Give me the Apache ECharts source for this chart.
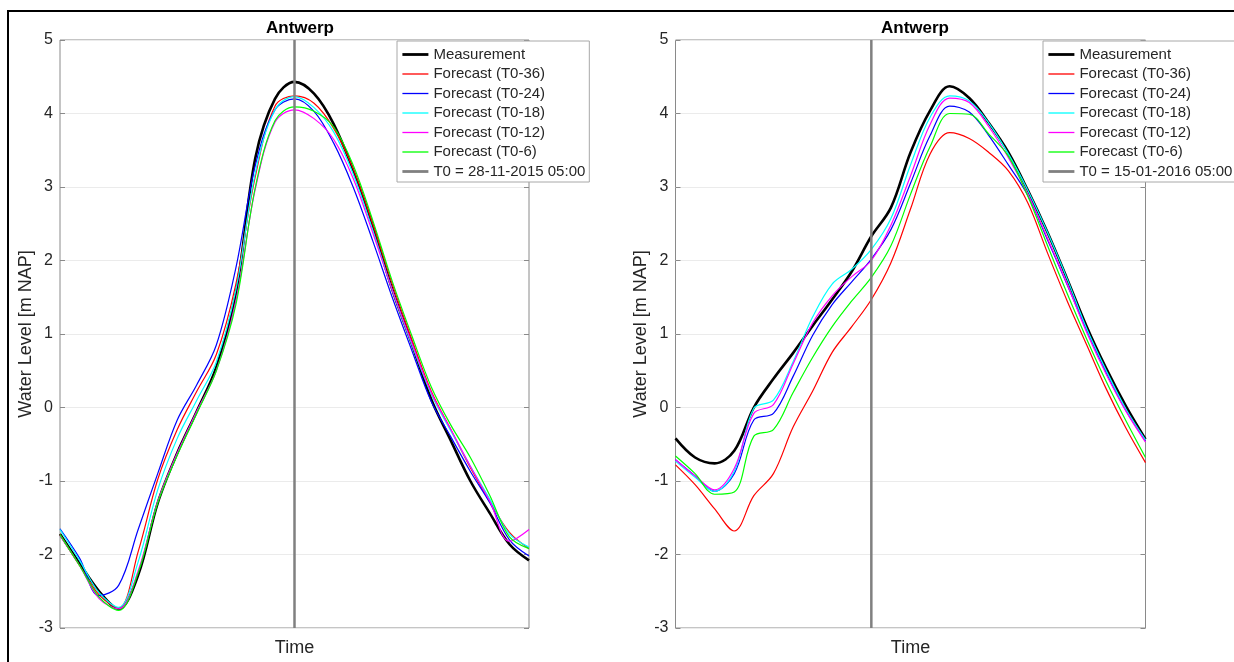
<!DOCTYPE html>
<html><head><meta charset="utf-8">
<script src="https://cdn.jsdelivr.net/npm/echarts@6/dist/echarts.min.js"></script>
<style>html,body{margin:0;padding:0;background:#fff}#c{width:1234px;height:662px}</style>
</head><body><div id="c"></div>
<script>
// ---- data ----
const time = [0,2,4,6,8,10,12,14,16,18,20,22,24,26,28,30,32,34,36,38,40,42,44,46,48];
const yTicks = [-3,-2,-1,0,1,2,3,4,5];
const chartTitle = 'Antwerp';
const seriesNames = ['Measurement','Forecast (T0-36)','Forecast (T0-24)','Forecast (T0-18)','Forecast (T0-12)','Forecast (T0-6)'];
const t0Left = 24, t0LeftName = 'T0 = 28-11-2015 05:00';
const t0Right = 20, t0RightName = 'T0 = 15-01-2016 05:00';

const leftMeasurement = [-1.72,-2.12,-2.50,-2.74,-2.28,-1.30,-0.62,-0.05,0.55,1.55,3.40,4.20,4.43,4.27,3.86,3.23,2.48,1.61,0.87,0.11,-0.45,-1.00,-1.44,-1.86,-2.08];
const leftT36 = [-1.73,-2.15,-2.55,-2.73,-1.96,-0.98,-0.30,0.22,0.72,1.68,3.15,4.10,4.24,4.14,3.80,3.25,2.50,1.68,0.93,0.22,-0.30,-0.82,-1.28,-1.70,-1.92];
const leftT24 = [-1.65,-2.05,-2.56,-2.42,-1.66,-0.90,-0.17,0.31,0.85,1.90,3.30,4.05,4.20,4.03,3.60,3.00,2.27,1.50,0.78,0.08,-0.40,-0.87,-1.30,-1.80,-2.02];
const leftT18 = [-1.66,-2.08,-2.52,-2.72,-2.10,-1.12,-0.42,0.10,0.62,1.60,3.20,4.05,4.23,4.08,3.75,3.18,2.42,1.60,0.86,0.18,-0.32,-0.80,-1.25,-1.72,-1.90];
const leftT12 = [-1.74,-2.15,-2.60,-2.74,-2.22,-1.28,-0.62,-0.05,0.50,1.45,2.98,3.88,4.05,3.93,3.65,3.12,2.38,1.60,0.88,0.20,-0.30,-0.80,-1.28,-1.82,-1.66];
const leftT6  = [-1.73,-2.15,-2.58,-2.76,-2.25,-1.30,-0.65,-0.08,0.50,1.40,3.00,3.90,4.09,4.03,3.82,3.30,2.55,1.72,0.98,0.28,-0.24,-0.68,-1.20,-1.76,-1.92];

const rightMeasurement = [-0.42,-0.68,-0.76,-0.59,0.00,0.39,0.74,1.11,1.47,1.85,2.33,2.72,3.47,4.04,4.37,4.21,3.87,3.47,2.95,2.38,1.75,1.10,0.53,0.02,-0.43];
const rightT36 = [-0.78,-1.05,-1.38,-1.68,-1.20,-0.90,-0.27,0.22,0.75,1.10,1.47,1.97,2.70,3.45,3.74,3.66,3.47,3.22,2.78,2.10,1.45,0.85,0.25,-0.28,-0.75];
const rightT24 = [-0.71,-0.93,-1.14,-0.90,-0.17,-0.08,0.42,0.98,1.40,1.71,2.02,2.42,3.05,3.70,4.10,4.02,3.70,3.30,2.88,2.28,1.67,1.05,0.47,-0.04,-0.45];
const rightT18 = [-0.73,-0.95,-1.14,-0.87,-0.01,0.10,0.62,1.23,1.68,1.88,2.15,2.57,3.30,3.95,4.24,4.17,3.87,3.45,2.95,2.38,1.75,1.07,0.50,-0.02,-0.44];
const rightT12 = [-0.71,-0.93,-1.12,-0.83,-0.08,0.04,0.59,1.15,1.52,1.78,2.00,2.48,3.15,3.85,4.21,4.15,3.82,3.40,2.90,2.30,1.68,1.02,0.45,-0.05,-0.47];
const rightT6  = [-0.66,-0.90,-1.18,-1.15,-0.39,-0.30,0.20,0.68,1.10,1.45,1.77,2.20,2.90,3.55,4.00,3.99,3.72,3.42,2.87,2.20,1.55,0.93,0.35,-0.18,-0.68];

// ---- styles ----
const FONT = '"Liberation Sans", Arial, Helvetica, sans-serif';
const colors = ['#000000','#ff0000','#0000ff','#00ffff','#ff00ff','#00ff00'];
const widths = [2.6,1.2,1.2,1.2,1.2,1.2];
const TXT = '#262626';
const BOX = '#8a8a8a';
const T0COLOR = '#808080';

const chart = echarts.init(document.getElementById('c'));

function pairs(vals){ return time.map((t,i)=>[t, vals[i]]); }

const grids = [
  {left:60, top:40, width:469, height:591, show:true, borderColor:BOX, borderWidth:1, backgroundColor:'#fff'},
  {left:675.5, top:40, width:470, height:591, show:true, borderColor:BOX, borderWidth:1, backgroundColor:'#fff'}
];

function xAx(i){
  return {type:'value', gridIndex:i, min:0, max:48, axisLine:{show:false}, axisTick:{show:false},
    axisLabel:{show:false}, splitLine:{show:false},
    name:'Time', nameLocation:'middle', nameGap:11,
    nameTextStyle:{fontFamily:FONT, fontSize:18, color:TXT}};
}
function yAx(i, right){
  return {type:'value', gridIndex:i, min:yTicks[0], max:yTicks[yTicks.length-1], interval:1,
    position: right ? 'right' : 'left',
    axisLine:{show:false},
    axisTick:{show:true, inside:true, length:5, lineStyle:{color:BOX}},
    axisLabel:{show:!right, margin:7, fontFamily:FONT, fontSize:16, color:TXT},
    splitLine:{show:!right, lineStyle:{color:'#ebebeb', width:1}},
    name: right ? '' : 'Water Level [m NAP]', nameLocation:'middle', nameGap:25,
    nameTextStyle:{fontFamily:FONT, fontSize:18, color:TXT}};
}

const leftData = [leftMeasurement,leftT36,leftT24,leftT18,leftT12,leftT6];
const rightData = [rightMeasurement,rightT36,rightT24,rightT18,rightT12,rightT6];

const series = [];
[[leftData, 0, t0Left, t0LeftName],[rightData, 1, t0Right, t0RightName]].forEach(([dataSet, gi, t0, t0Name])=>{
  dataSet.forEach((vals, k)=>{
    series.push({type:'line', name:seriesNames[k], xAxisIndex:gi, yAxisIndex:gi*2,
      data:pairs(vals), symbol:'none', smooth:0.35, silent:true, animation:false,
      lineStyle:{color:colors[k], width:widths[k]}, itemStyle:{color:colors[k]}, z: k===0 ? 2 : 3});
  });
  series.push({type:'line', name:t0Name, xAxisIndex:gi, yAxisIndex:gi*2,
    data:[[t0, yTicks[0]],[t0, yTicks[yTicks.length-1]]], symbol:'none', silent:true, animation:false,
    lineStyle:{color:T0COLOR, width:2.5}, itemStyle:{color:T0COLOR}, z:4});
});

function legend(left, t0Name){
  const items = seriesNames.map((n,k)=>({name:n, lineStyle:{width: k===0 ? 2.8 : 1.3, color:colors[k]}}));
  items.push({name:t0Name, lineStyle:{width:2.8, color:T0COLOR}});
  return {left:left, top:41, orient:'vertical', data:items,
    itemWidth:26, itemHeight:14, itemGap:4.5, padding:[6,4,3,4],
    itemStyle:{opacity:0},
    backgroundColor:'#fff', borderColor:'#a8a8a8', borderWidth:1, selectedMode:false,
    textStyle:{fontFamily:FONT, fontSize:15, color:TXT}, z:10};
}

chart.setOption({
  animation:false,
  backgroundColor:'#fff',
  title:[
    {text:chartTitle, left:295, top:15, textAlign:'center', textStyle:{fontFamily:FONT, fontSize:17, fontWeight:'bold', color:'#000'}},
    {text:chartTitle, left:910, top:15, textAlign:'center', textStyle:{fontFamily:FONT, fontSize:17, fontWeight:'bold', color:'#000'}}
  ],
  grid:grids,
  xAxis:[xAx(0), xAx(1)],
  yAxis:[yAx(0,false), yAx(0,true), yAx(1,false), yAx(1,true)],
  legend:[legend(397, t0LeftName), legend(1043, t0RightName)],
  series:series,
  graphic:[{type:'rect', shape:{x:8, y:11, width:1400, height:800}, style:{fill:null, stroke:'#000', lineWidth:2}, silent:true, z:100}]
});
</script>
</body></html>
